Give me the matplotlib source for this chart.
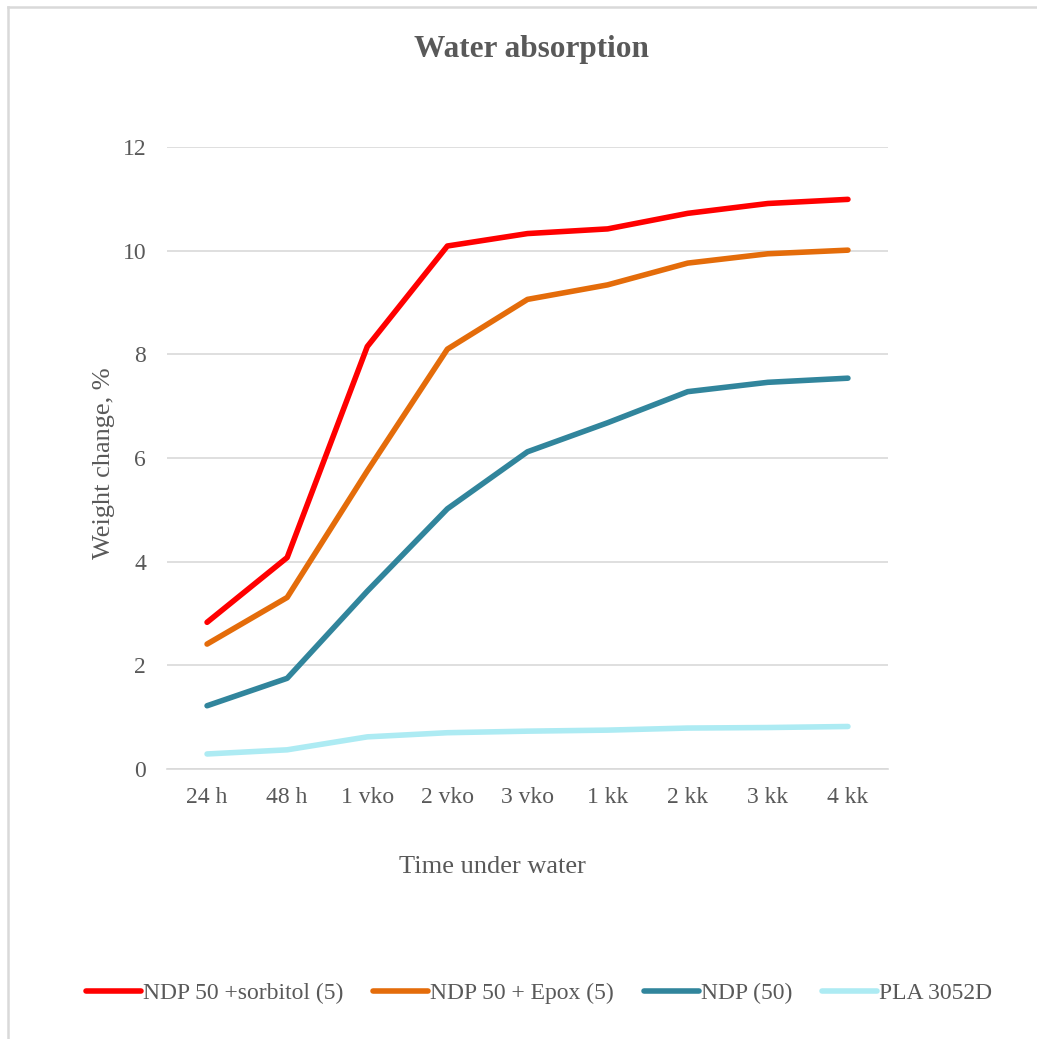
import matplotlib
matplotlib.use("Agg")
import matplotlib.pyplot as plt
from matplotlib.lines import Line2D

# Data
categories = ["24 h", "48 h", "1 vko", "2 vko", "3 vko", "1 kk", "2 kk", "3 kk", "4 kk"]
sorbitol = [2.83, 4.08, 8.15, 10.09, 10.33, 10.42, 10.72, 10.91, 10.99]
epox = [2.41, 3.31, 5.75, 8.10, 9.06, 9.34, 9.76, 9.94, 10.01]
ndp50 = [1.22, 1.75, 3.43, 5.02, 6.12, 6.68, 7.28, 7.46, 7.54]
pla = [0.29, 0.37, 0.62, 0.70, 0.73, 0.75, 0.79, 0.80, 0.82]

series_names = ["NDP 50 +sorbitol (5)", "NDP 50 + Epox (5)", "NDP (50)", "PLA 3052D"]
series_values = [sorbitol, epox, ndp50, pla]
colors = ["#FF0000", "#E46C0A", "#31859C", "#ADEBF3"]

plt.rcParams["font.family"] = ["Liberation Serif", "DejaVu Serif"]
text_color = "#595959"

W, H = 1037, 1039
fig = plt.figure(figsize=(W / 100, H / 100), dpi=100)

# chart border (top and left edges)
border_kw = dict(transform=fig.transFigure, color="#D9D9D9", linewidth=1.8)
fig.add_artist(Line2D([8 / W, 8 / W], [0, 1 - 7 / H], **border_kw))
fig.add_artist(Line2D([8 / W, 1], [1 - 7 / H, 1 - 7 / H], **border_kw))

ax = fig.add_axes([167 / W, 1 - 769 / H, (888 - 167) / W, (769 - 147) / H])
x = list(range(len(categories)))
for name, vals, c in zip(series_names, series_values, colors):
    ax.plot(x, vals, color=c, linewidth=4.0, solid_capstyle="round",
            solid_joinstyle="round", label=name)

ax.set_xlim(-0.5, len(categories) - 0.5)
ax.set_ylim(0, 12)
ax.set_yticks(range(0, 13, 2))
ax.set_xticks(x)
ax.set_xticklabels(categories)
ax.grid(axis="y", color="#D9D9D9", linewidth=1.2)
ax.set_axisbelow(True)
for s in ["top", "right", "left"]:
    ax.spines[s].set_visible(False)
ax.spines["bottom"].set_color("#D9D9D9")
ax.spines["bottom"].set_linewidth(1.2)
ax.tick_params(axis="both", length=0, labelsize=17, colors=text_color)
ax.tick_params(axis="y", pad=15)
ax.tick_params(axis="x", pad=13)

ax.set_ylabel("Weight change, %", fontsize=19, color=text_color)
ax.yaxis.set_label_coords((115 - 167) / 721, (769 - 463) / 622)
ax.set_xlabel("Time under water", fontsize=19, color=text_color)
ax.xaxis.set_label_coords((492 - 167) / 721, (769 - 856) / 622)

fig.text(531 / W, 1 - 49 / H, "Water absorption", ha="center", va="center",
         fontsize=22.5, fontweight="bold", color=text_color)

leg = fig.legend(loc="center", bbox_to_anchor=(539 / W, 1 - 993 / H), ncol=4,
                 frameon=False, fontsize=17, handlelength=2.35, handletextpad=0.08,
                 columnspacing=1.25)
for t in leg.get_texts():
    t.set_color(text_color)

fig.savefig("out.png", dpi=100)
